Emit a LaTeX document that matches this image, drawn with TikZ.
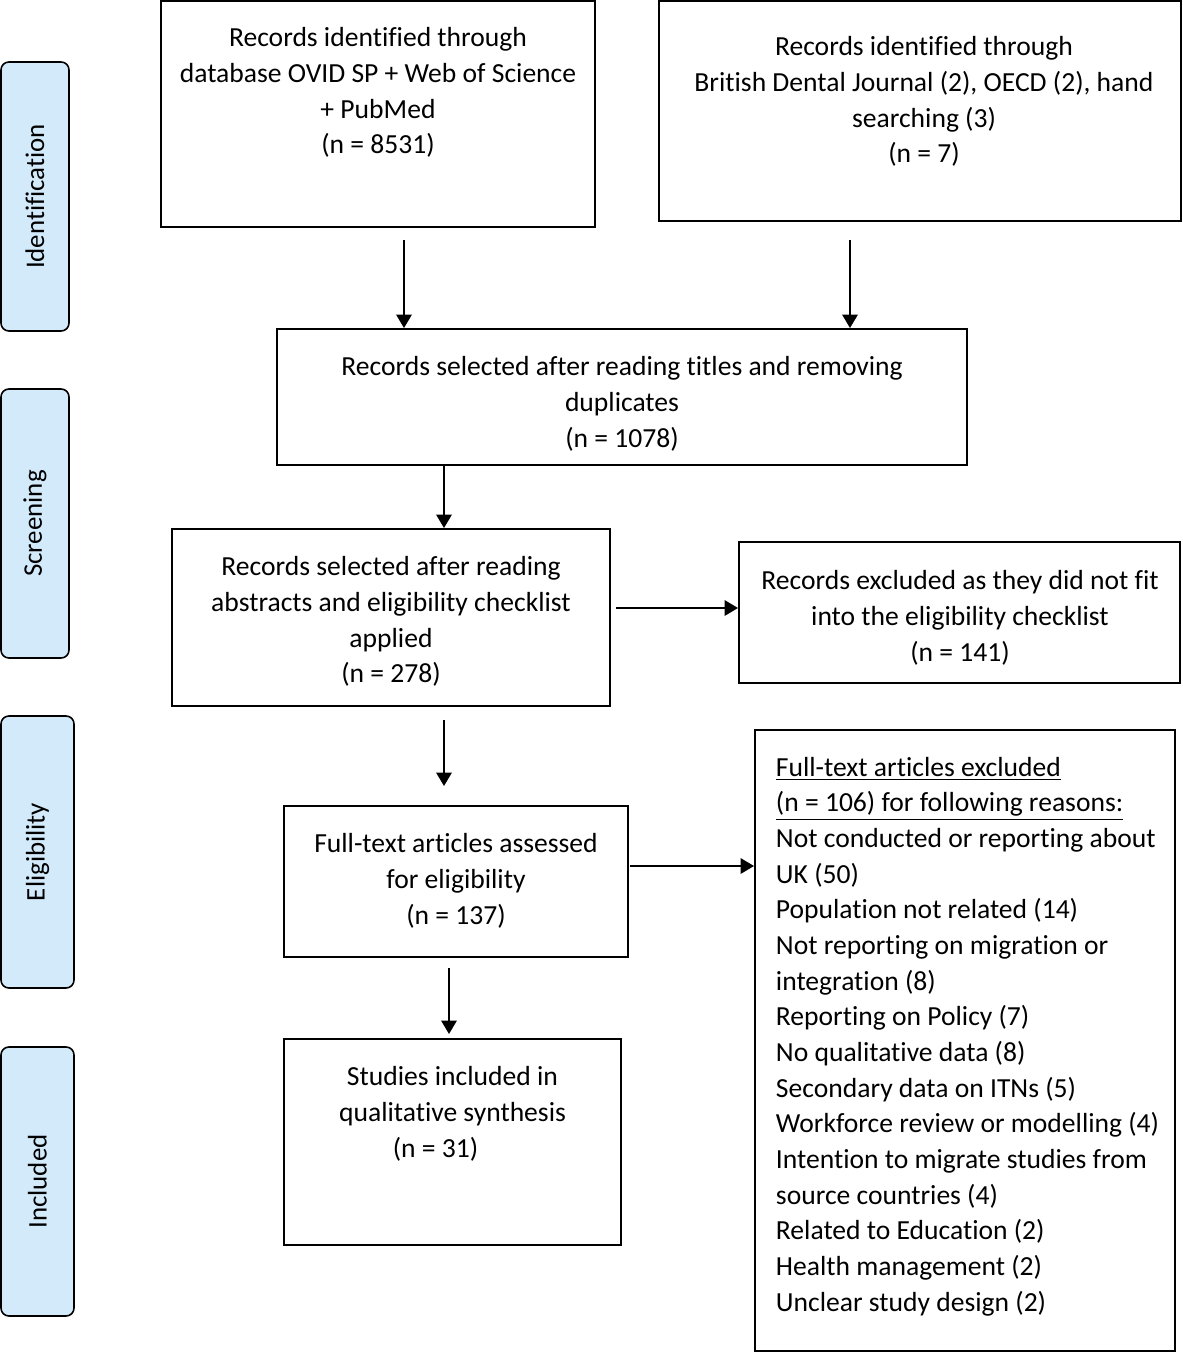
\documentclass[tikz,border=0pt]{standalone}
\usepackage{fontspec}
\setmainfont{Carlito}[Ligatures={NoCommon}]
\usetikzlibrary{arrows.meta}
\definecolor{phaseblue}{RGB}{210,234,250}

\begin{document}
\begin{tikzpicture}[x=0.02cm,y=-0.02cm,line width=1.1pt,
  font=\fontsize{15.7}{20.3}\selectfont,
  box/.style={draw,inner sep=0pt},
  txt/.style={align=center,anchor=base,inner sep=0pt},
  phase/.style={draw,fill=phaseblue,rounded corners=4.5pt,rotate=90,inner sep=0pt,line width=0.9pt,font=\fontsize{15.3}{18}\selectfont},
  arr/.style={-{Triangle[width=0.31cm,length=0.27cm]}}]

\useasboundingbox (0,0) rectangle (1183,1353);

%Fasi
\node[phase,minimum width=269*0.02cm,minimum height=68*0.02cm] (ident) at (35,196.5) {Identification};
\node[phase,minimum width=269*0.02cm,minimum height=68*0.02cm] (screen) at (35,523.5) {Screening};
\node[phase,minimum width=272*0.02cm,minimum height=73*0.02cm] (elig) at (37.5,852) {Eligibility};
\node[phase,minimum width=269*0.02cm,minimum height=73*0.02cm] (incl) at (37.5,1181.5) {Included};

%Identificazione (testo ancorato all'ultima riga)
\node[box,minimum width=434*0.02cm,minimum height=226*0.02cm] (recdb) at (378,114) {};
\node[txt] (recdbt) at (378,153.8) {Records identified through\\database OVID SP + Web of Science\\+ PubMed\\(n = 8531)};

\node[box,minimum width=522*0.02cm,minimum height=220*0.02cm] (recoth) at (920,111) {};
\node[txt] (recotht) at (924,162.8) {Records identified through\\British Dental Journal (2), OECD (2), hand\\searching (3)\\(n = 7)};

%Screening
\node[box,minimum width=690*0.02cm,minimum height=136*0.02cm] (sel) at (622,397) {};
\node[txt] (selt) at (622,447.1) {Records selected after reading titles and removing\\duplicates\\(n = 1078)};

\node[box,minimum width=438*0.02cm,minimum height=177*0.02cm] (abs) at (391,617.5) {};
\node[txt] (abst) at (391,682.8) {Records selected after reading\\abstracts and eligibility checklist\\applied\\(n = 278)};

\node[box,minimum width=441*0.02cm,minimum height=141*0.02cm] (excl) at (959.5,612.5) {};
\node[txt] (exclt) at (960,661.1) {Records excluded as they did not fit\\into the eligibility checklist\\(n = 141)};

%Eleggibilita
\node[box,minimum width=344*0.02cm,minimum height=151*0.02cm] (full) at (456,881.5) {};
\node[txt] (fullt) at (456,924.1) {Full-text articles assessed\\for eligibility\\(n = 137)};

\node[box,minimum width=420*0.02cm,minimum height=621*0.02cm] (reasons) at (965,1040.5) {};
\node[anchor=base west,align=left,inner sep=0pt] (reasonst) at (775,1311.2) {\underline{Full-text articles excluded}\\
\underline{(n = 106) for following reasons:}\\
Not conducted or reporting about\\
UK (50)\\
Population not related (14)\\
Not reporting on migration or\\
integration (8)\\
Reporting on Policy (7)\\
No qualitative data (8)\\
Secondary data on ITNs (5)\\
Workforce review or modelling (4)\\
Intention to migrate studies from\\
source countries (4)\\
Related to Education (2)\\
Health management (2)\\
Unclear study design (2)};

%Inclusi
\node[box,minimum width=337*0.02cm,minimum height=206*0.02cm] (stud) at (452.5,1142) {};
\node[txt] (studt) at (452.5,1157.1) {Studies included in\\qualitative synthesis\\(n = 31)\hspace*{0.68cm}};

%Frecce
\coordinate (a1) at (404,240);
\coordinate (a2) at (850,240);
\coordinate (a3) at (444,0);
\coordinate (a4) at (616,608);
\coordinate (a5) at (444,720);
\coordinate (a5e) at (444,786);
\coordinate (a6) at (630,866);
\coordinate (a7) at (449,968);
\coordinate (a7e) at (449,1034);

\draw[arr] (a1) -- (a1 |- sel.north);
\draw[arr] (a2) -- (a2 |- sel.north);
\draw[arr] (a3 |- sel.south) -- (a3 |- abs.north);
\draw[arr] (a4) -- (a4 -| excl.west);
\draw[arr] (a5) -- (a5e);
\draw[arr] (a6) -- (a6 -| reasons.west);
\draw[arr] (a7) -- (a7e);

\end{tikzpicture}
\end{document}
